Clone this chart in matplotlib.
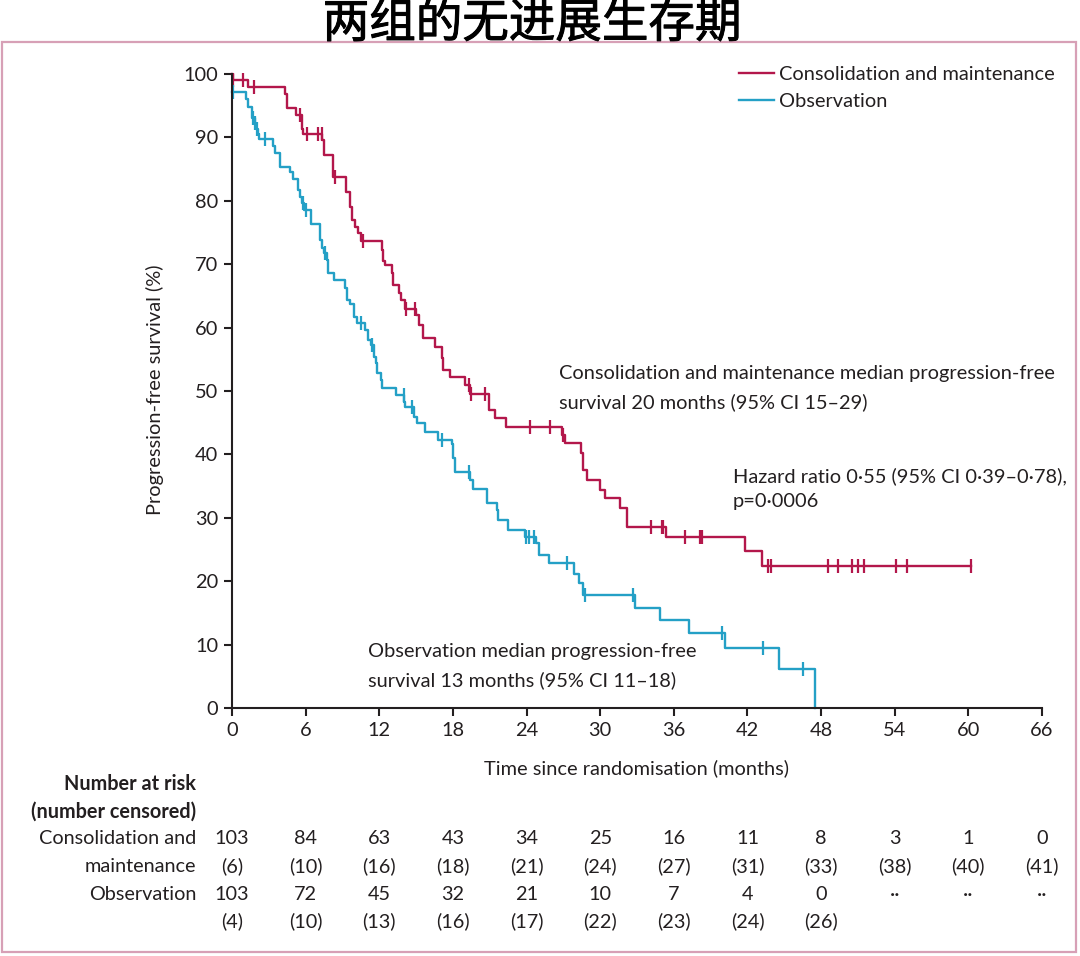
import numpy as np
import matplotlib
matplotlib.use('Agg')
import matplotlib.pyplot as plt
import matplotlib.patheffects as pe
from matplotlib.patches import Rectangle
from matplotlib.transforms import blended_transform_factory

plt.rcParams['font.family'] = ['Lato', 'DejaVu Sans']

# ---------------- data ----------------
title = '两组的无进展生存期'
series_names = ['Consolidation and maintenance', 'Observation']

# Consolidation and maintenance: step times (months) and survival (%) after each step
cm_t = [0.0, 0.05, 1.3, 4.3, 4.5, 5.2, 5.7, 5.8, 7.35, 7.5, 8.2, 9.3, 9.6, 9.8, 10.0, 10.3, 10.5,
        12.2, 12.3, 12.5, 13.0, 13.1, 13.6, 13.8, 14.1, 15.0, 15.2, 15.6, 16.5, 17.1, 17.2, 17.8,
        19.0, 19.4, 20.9, 21.4, 22.3, 26.9, 27.1, 28.4, 28.6, 28.9, 30.0, 30.4, 31.6, 32.2, 35.4,
        41.8, 43.2]
cm_s = [100.0, 99.0, 98.0, 96.9, 94.6, 93.5, 91.4, 90.5, 89.6, 87.3, 83.8, 81.4, 79.1, 77.0, 75.9,
        74.9, 73.6, 72.2, 70.5, 69.9, 68.6, 66.7, 65.4, 64.4, 63.0, 62.0, 60.4, 58.3, 57.0, 55.2,
        53.3, 52.2, 50.9, 49.6, 47.0, 45.7, 44.4, 43.1, 41.8, 40.2, 37.5, 36.0, 34.4, 33.1, 31.5,
        28.6, 27.0, 24.7, 22.4]
cm_end = 60.2
cm_censor = [0.1, 0.9, 1.8, 5.5, 6.1, 7.0, 7.3, 8.4, 10.7, 14.2, 14.9, 19.3, 19.5, 20.6, 24.3,
             25.9, 27.0, 34.1, 35.0, 35.1, 36.9, 38.1, 38.3, 43.7, 43.9, 48.6, 49.4, 50.5, 51.0,
             51.5, 54.1, 55.0, 60.2]

# Observation
obs_t = [0.0, 1.1, 1.3, 1.6, 1.85, 1.95, 2.1, 2.2, 3.3, 3.5, 3.9, 4.7, 5.0, 5.4, 5.5, 5.7, 5.9,
         6.4, 7.2, 7.3, 7.5, 7.7, 7.8, 8.3, 9.2, 9.4, 9.6, 9.9, 10.2, 10.8, 11.1, 11.3, 11.6, 11.7,
         11.8, 12.1, 12.2, 13.4, 14.05, 14.1, 14.8, 15.1, 15.7, 16.8, 17.9, 18.0, 18.2, 19.4,
         19.6, 20.8, 21.6, 21.7, 22.5, 23.85, 24.8, 25.0, 25.8, 27.9, 28.3, 28.6, 32.8, 34.9,
         37.2, 40.2, 44.6, 47.5]
obs_s = [97.1, 96.1, 94.8, 93.0, 92.2, 91.4, 90.6, 89.8, 88.6, 87.5, 85.4, 84.6, 83.5, 81.7, 80.6,
         79.6, 78.5, 76.4, 73.8, 72.5, 71.7, 70.7, 68.6, 67.5, 66.2, 64.4, 63.8, 61.7, 60.7, 59.6,
         58.0, 57.3, 55.4, 54.4, 52.8, 51.7, 50.4, 49.3, 48.3, 47.5, 45.9, 44.9, 43.6, 42.3, 41.7,
         39.4, 37.3, 36.0, 34.6, 32.3, 31.2, 29.7, 28.1, 27.0, 26.0, 24.1, 22.8, 21.2, 19.7, 17.8,
         15.7, 13.9, 11.8, 9.5, 6.2, 0.0]
obs_censor = [0.05, 1.7, 1.9, 2.0, 2.7, 5.75, 6.0, 7.6, 10.5, 11.4, 14.0, 14.7, 17.1, 19.3,
              23.95, 24.2, 24.6, 27.3, 28.8, 32.7, 39.9, 43.3, 46.5]

x_ticks = [0, 6, 12, 18, 24, 30, 36, 42, 48, 54, 60, 66]
y_ticks = [0, 10, 20, 30, 40, 50, 60, 70, 80, 90, 100]

cm_risk = ['103', '84', '63', '43', '34', '25', '16', '11', '8', '3', '1', '0']
cm_cens = ['(6)', '(10)', '(16)', '(18)', '(21)', '(24)', '(27)', '(31)', '(33)', '(38)', '(40)', '(41)']
obs_risk = ['103', '72', '45', '32', '21', '10', '7', '4', '0', '··', '··', '··']
obs_cens = ['(4)', '(10)', '(13)', '(16)', '(17)', '(22)', '(23)', '(24)', '(26)', '', '', '']

cm_note = ['Consolidation and maintenance median progression-free',
           'survival 20 months (95% CI 15–29)']
hr_note = ['Hazard ratio 0·55 (95% CI 0·39–0·78),', 'p=0·0006']
obs_note = ['Observation median progression-free', 'survival 13 months (95% CI 11–18)']

# ---------------- style ----------------
RED = '#b3174b'
BLUE = '#24a0c6'
TXT = '#231f20'
FRAME = '#d7a0b6'
FS = 14.4
FS_TAB = 14.3

W, H = 1080, 956
fig = plt.figure(figsize=(W / 100, H / 100), dpi=100)


def fx(px):
    return px / W


def fy(py):
    return 1 - py / H


fig.patches.append(Rectangle((fx(2), fy(952)), fx(1076) - fx(2), fy(42) - fy(952),
                             transform=fig.transFigure, fill=False, edgecolor=FRAME,
                             linewidth=1.6, zorder=0))

fig.text(fx(532), fy(24), title, ha='center', va='center', fontsize=33.5,
         family=['Noto Sans CJK SC'], weight='normal', color='black',
         path_effects=[pe.withStroke(linewidth=0.7, foreground='black')])

ax = fig.add_axes([fx(232), fy(708), fx(1042) - fx(232), fy(74) - fy(708)])
ax.set_xlim(0, 66)
ax.set_ylim(0, 100)
for s in ['top', 'right']:
    ax.spines[s].set_visible(False)
for s in ['left', 'bottom']:
    ax.spines[s].set_linewidth(1.5)
    ax.spines[s].set_color(TXT)
ax.set_xticks(x_ticks)
ax.set_yticks(y_ticks)
ax.tick_params(direction='out', length=6, width=1.5, color=TXT, labelsize=FS,
               labelcolor=TXT, pad=4)


def level_at(t, s, c):
    idx = np.searchsorted(t, c, side='right') - 1
    return np.asarray(s)[idx]


cm_x = np.r_[cm_t, cm_end]
cm_y = np.r_[cm_s, cm_s[-1]]
ax.step(cm_x, cm_y, where='post', color=RED, lw=1.7, label=series_names[0], clip_on=False)
ax.plot(cm_censor, level_at(cm_t, cm_s, cm_censor), ls='none', marker='|', ms=10, mew=1.6,
        color=RED, clip_on=False)

ax.step(obs_t, obs_s, where='post', color=BLUE, lw=1.7, label=series_names[1], clip_on=False)
ax.plot(obs_censor, level_at(obs_t, obs_s, obs_censor), ls='none', marker='|', ms=10, mew=1.6,
        color=BLUE, clip_on=False)

leg = ax.legend(loc='upper left', bbox_to_anchor=(fx(729), fy(56)),
                bbox_transform=fig.transFigure, frameon=False, fontsize=FS,
                handlelength=1.75, handletextpad=0.25, labelspacing=0.5, borderpad=0)
for t in leg.get_texts():
    t.set_color(TXT)

ax.set_xlabel('Time since randomisation (months)', fontsize=FS, color=TXT)
ax.xaxis.set_label_coords(fx(636), fy(768), transform=fig.transFigure)
ax.set_ylabel('Progression-free survival (%)', fontsize=FS, color=TXT)
ax.yaxis.set_label_coords(fx(155), fy(390), transform=fig.transFigure)
ax.xaxis.label.set_va('center')
ax.yaxis.label.set_va('center')


def note(lines, x, y0, dy=28):
    for i, ln in enumerate(lines):
        fig.text(fx(x), fy(y0 + i * dy), ln, ha='left', va='center', fontsize=FS, color=TXT)


note(cm_note, 559, 374)
note(hr_note, 733, 476, 26)
note(obs_note, 368, 652)

# number at risk table
tr = blended_transform_factory(ax.transData, fig.transFigure)
lab_x = fx(196)
fig.text(lab_x, fy(784), 'Number at risk', ha='right', va='center', fontsize=FS_TAB,
         weight='bold', color=TXT)
fig.text(lab_x, fy(812), '(number censored)', ha='right', va='center', fontsize=FS_TAB,
         weight='bold', color=TXT)
fig.text(lab_x, fy(839), 'Consolidation and', ha='right', va='center', fontsize=FS_TAB, color=TXT)
fig.text(lab_x, fy(866), 'maintenance', ha='right', va='center', fontsize=FS_TAB, color=TXT)
fig.text(lab_x, fy(894), 'Observation', ha='right', va='center', fontsize=FS_TAB, color=TXT)

for xt, a, b, c, d in zip(x_ticks, cm_risk, cm_cens, obs_risk, obs_cens):
    ax.text(xt, fy(839), a, transform=tr, ha='center', va='center', fontsize=FS_TAB, color=TXT)
    ax.text(xt, fy(866), b, transform=tr, ha='center', va='center', fontsize=FS_TAB, color=TXT)
    ax.text(xt, fy(894), c, transform=tr, ha='center', va='center', fontsize=FS_TAB, color=TXT)
    if d:
        ax.text(xt, fy(921), d, transform=tr, ha='center', va='center', fontsize=FS_TAB, color=TXT)

fig.savefig('out.png', dpi=100)
